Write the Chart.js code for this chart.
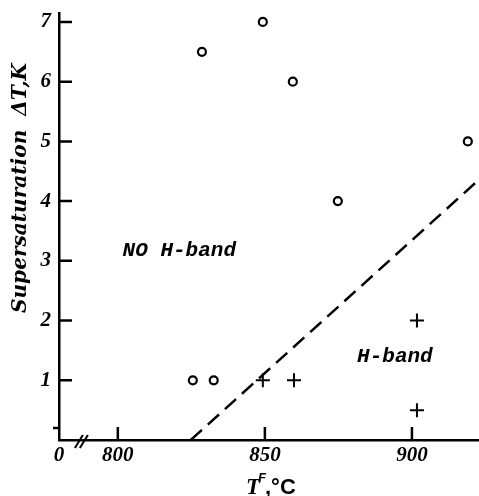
<!DOCTYPE html>
<html>
<head>
<meta charset="utf-8">
<script src="https://cdn.jsdelivr.net/npm/chart.js@4/dist/chart.umd.min.js"></script>
<style>
  html, body { margin: 0; padding: 0; background: #fff; overflow: hidden; }
  #wrap { width: 479px; height: 496px; position: relative; }
</style>
</head>
<body>
<div id="wrap"><canvas id="grafico"></canvas></div>
<script>
// Datos
const sinBandaT = [825.5, 832.6, 828.6, 849.3, 859.5, 874.8, 919.0];
const sinBandaDT = [1, 1, 6.5, 7, 6, 4, 5];
const conBandaT = [849.3, 859.9, 901.7, 901.7];
const conBandaDT = [1, 1, 2, 0.5];
const limiteT = [824.8, 922.8];
const limiteDT = [0, 4.36];

const xTicks = [780, 800, 850, 900];     // 780 = origen cortado, rotulo "0"
const xTickLabels = ['0', '800', '850', '900'];
const yTicks = [1, 2, 3, 4, 5, 6, 7];

const fuenteTexto = 'italic bold 21px "Liberation Mono"';

// marcas de ticks hacia dentro, corte del eje, titulos y rotulos
const decoracion = {
    id: 'decoracion',
    afterDraw(chart) {
        const ctx = chart.ctx;
        const x = chart.scales.x, y = chart.scales.y;
        const a = chart.chartArea;
        ctx.save();
        ctx.strokeStyle = '#000';
        ctx.fillStyle = '#000';
        ctx.lineWidth = 2.5;
        ctx.beginPath();
        yTicks.forEach(v => {
            const py = y.getPixelForValue(v);
            ctx.moveTo(a.left, py); ctx.lineTo(a.left + 13, py);
        });
        // tick corto suelto cerca del cero
        const p02 = y.getPixelForValue(0.2);
        ctx.moveTo(a.left - 6, p02); ctx.lineTo(a.left, p02);
        xTicks.slice(1).forEach(v => {
            const px = x.getPixelForValue(v);
            ctx.moveTo(px, a.bottom); ctx.lineTo(px, a.bottom - 13);
        });
        ctx.stroke();

        // corte del eje "//"
        const pc = x.getPixelForValue(787.1);
        ctx.lineWidth = 2;
        ctx.beginPath();
        ctx.moveTo(pc - 5, a.bottom + 8); ctx.lineTo(pc + 3, a.bottom - 5);
        ctx.moveTo(pc, a.bottom + 8); ctx.lineTo(pc + 8, a.bottom - 5);
        ctx.stroke();

        // titulo eje Y
        ctx.save();
        ctx.translate(21, 188);
        ctx.rotate(-Math.PI / 2);
        ctx.font = 'italic bold 20px "DejaVu Serif"';
        ctx.textAlign = 'center';
        ctx.textBaseline = 'middle';
        const txt = 'Supersaturation  ΔT,K';
        const w = ctx.measureText(txt).width;
        ctx.scale(250 / w, 1);
        ctx.fillText(txt, 0, 0);
        ctx.restore();

        // titulo eje X: T^F,°C
        ctx.textBaseline = 'alphabetic';
        ctx.textAlign = 'left';
        const bx = 246, by = 494;
        ctx.font = 'italic bold 23px "Liberation Serif"';
        ctx.fillText('T', bx, by);
        ctx.font = 'italic bold 13px "Liberation Sans"';
        ctx.fillText('F', bx + 12, by - 12);
        ctx.font = 'bold 22px "Liberation Sans Narrow", "Liberation Sans"';
        ctx.fillText(',°C', bx + 19, by);

        // rotulos de regiones
        ctx.font = fuenteTexto;
        ctx.textAlign = 'center';
        ctx.textBaseline = 'middle';
        ctx.fillText('NO H-band', x.getPixelForValue(820.9), y.getPixelForValue(3.17));
        ctx.fillText('H-band', x.getPixelForValue(894.2), y.getPixelForValue(1.39));
        ctx.restore();
    }
};

const ctx = document.getElementById('grafico');
new Chart(ctx, {
    type: 'scatter',
    data: {
        datasets: [
            {
                label: 'sin banda H',
                data: sinBandaT.map((t, i) => ({ x: t, y: sinBandaDT[i] })),
                pointStyle: 'circle',
                pointRadius: 4,
                backgroundColor: '#fff',
                borderColor: '#000',
                borderWidth: 2.2
            },
            {
                label: 'banda H',
                data: conBandaT.map((t, i) => ({ x: t, y: conBandaDT[i] })),
                pointStyle: 'cross',
                pointRadius: 7,
                borderColor: '#000',
                borderWidth: 2
            },
            {
                label: 'limite',
                type: 'line',
                data: limiteT.map((t, i) => ({ x: t, y: limiteDT[i] })),
                borderColor: '#000',
                borderWidth: 2.5,
                borderDash: [15, 8],
                pointRadius: 0,
                fill: false
            }
        ]
    },
    options: {
        responsive: true,
        maintainAspectRatio: false,
        animation: false,
        layout: { autoPadding: false, padding: { top: 13, right: 0, left: 0, bottom: 0 } },
        plugins: {
            legend: { display: false },
            tooltip: { enabled: false }
        },
        scales: {
            x: {
                type: 'linear',
                min: 780,
                max: 922.8,
                afterBuildTicks: s => { s.ticks = xTicks.map(v => ({ value: v })); },
                afterFit: s => { s.height = 56; s.paddingLeft = 0; s.paddingRight = 0; },
                grid: { display: false, drawTicks: false },
                border: { display: true, color: '#000', width: 2.5 },
                ticks: {
                    color: '#000',
                    font: { family: '"Liberation Serif"', size: 21, style: 'italic', weight: 'bold' },
                    padding: 3,
                    maxRotation: 0,
                    autoSkip: false,
                    callback: (v) => xTickLabels[xTicks.indexOf(v)]
                }
            },
            y: {
                min: 0,
                max: 7.15,
                afterBuildTicks: s => { s.ticks = yTicks.map(v => ({ value: v })); },
                afterFit: s => { s.width = 59; s.paddingTop = 0; s.paddingBottom = 0; },
                grid: { display: false, drawTicks: false },
                border: { display: true, color: '#000', width: 2.5 },
                ticks: {
                    color: '#000',
                    font: { family: '"Liberation Serif"', size: 21, style: 'italic', weight: 'bold' },
                    padding: 8,
                    autoSkip: false
                }
            }
        }
    },
    plugins: [decoracion]
});
</script>
</body>
</html>
